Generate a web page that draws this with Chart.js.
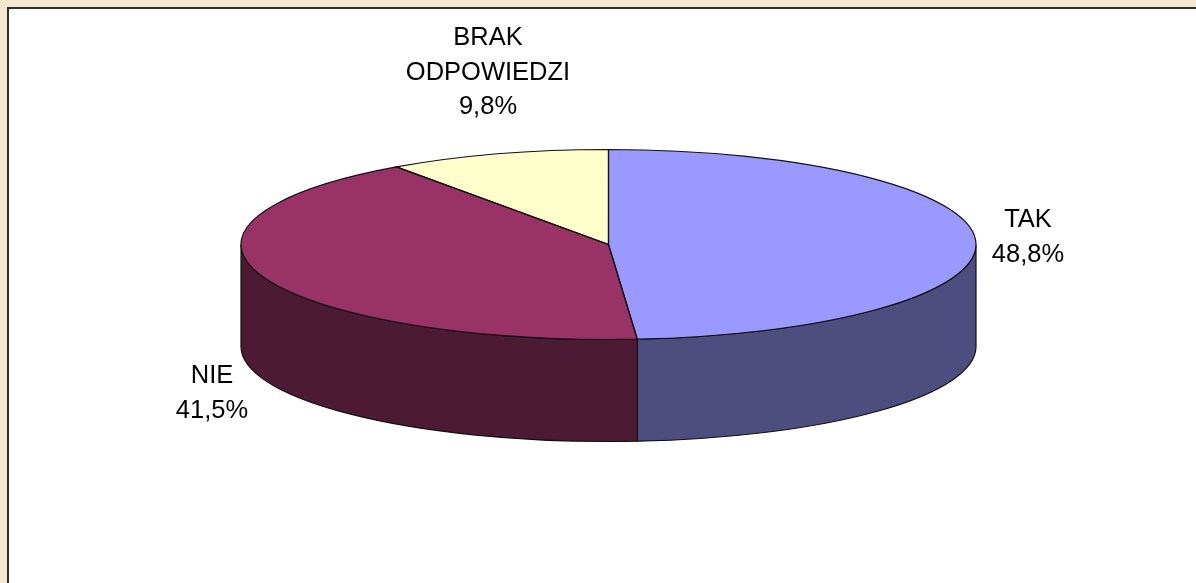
<!DOCTYPE html>
<html>
<head>
<meta charset="utf-8">
<title>Pie</title>
<script src="https://cdn.jsdelivr.net/npm/chart.js@4"></script>
<style>
html, body { margin: 0; padding: 0; background: #f5e8d0; overflow: hidden; }
#wrap { position: absolute; left: 0; top: 0; width: 1196px; height: 583px; }
#frame { position: absolute; left: 7px; top: 7px; width: 1189px; height: 576px; background: #fff;
         border-left: 2px solid #2f2f2f; border-top: 2px solid #2f2f2f; box-sizing: border-box; }
canvas { position: absolute; left: 0; top: 0; }
</style>
</head>
<body>
<div id="wrap">
<div id="frame"></div>
<canvas id="myPieChart" width="1196" height="583"></canvas>
</div>
<script>
var categories = ["TAK", "NIE", "BRAK ODPOWIEDZI"];
var shares = [48.8, 41.5, 9.8];
var shareLabels = ["48,8%", "41,5%", "9,8%"];
var topColors = ["#9999ff", "#993366", "#ffffcc"];
var sideColors = ["#4d4d80", "#4d1a33", "#80805f"];

// label lines, centre of each block and the first baseline
var labelLines = [["TAK"], ["NIE"], ["BRAK", "ODPOWIEDZI"]];
var labelPos = [[1028, 227], [212, 383], [488, 45]];

var CX = 608.5, CY = 244.5, RX = 367.5, RY = 95, DEPTH = 102, OUTLINE = "#111";
var LINE_STEP = 34.5;

// the chart lays out a round pie, this squashes it to the ellipse of the picture
function squash(ctx, el) {
    ctx.translate(el.x, el.y);
    ctx.scale(RX / el.outerRadius, RY / el.outerRadius);
    ctx.translate(-el.x, -el.y);
}

var pie3d = {
    id: 'pie3d',
    beforeDatasetsDraw: function (chart) {
        var ctx = chart.ctx;
        var arcs = chart.getDatasetMeta(0).data;
        var cx = arcs[0].x, cy = arcs[0].y;
        ctx.save();
        ctx.lineWidth = 1.2;
        ctx.strokeStyle = OUTLINE;
        // side wall, only the front half of the rim shows
        arcs.forEach(function (el, i) {
            var a0 = Math.max(el.startAngle, 0), a1 = Math.min(el.endAngle, Math.PI);
            if (a1 <= a0) return;
            ctx.beginPath();
            ctx.ellipse(cx, cy, RX, RY, 0, a0, a1);
            ctx.ellipse(cx, cy + DEPTH, RX, RY, 0, a1, a0, true);
            ctx.closePath();
            ctx.fillStyle = sideColors[i];
            ctx.fill();
            ctx.stroke();
        });
        ctx.restore();
        ctx.save();
        squash(ctx, arcs[0]);
    },
    afterDatasetsDraw: function (chart) {
        var ctx = chart.ctx;
        var arcs = chart.getDatasetMeta(0).data;
        ctx.restore();
        ctx.save();
        ctx.lineWidth = 1.2;
        ctx.strokeStyle = OUTLINE;
        arcs.forEach(function (el) {
            ctx.beginPath();
            ctx.moveTo(el.x, el.y);
            ctx.ellipse(el.x, el.y, RX, RY, 0, el.startAngle, el.endAngle);
            ctx.closePath();
            ctx.stroke();
        });
        ctx.restore();
    },
    afterDraw: function (chart) {
        var ctx = chart.ctx;
        ctx.save();
        ctx.fillStyle = "#000";
        ctx.font = '25.5px "Liberation Sans"';
        ctx.textAlign = "center";
        labelLines.forEach(function (lines, i) {
            lines.concat(shareLabels[i]).forEach(function (line, j) {
                ctx.fillText(line, labelPos[i][0], labelPos[i][1] + j * LINE_STEP);
            });
        });
        ctx.restore();
    }
};

new Chart(document.getElementById('myPieChart').getContext('2d'), {
    type: 'pie',
    data: {
        labels: categories,
        datasets: [{
            data: shares,
            backgroundColor: topColors,
            borderWidth: 0
        }]
    },
    options: {
        responsive: false,
        animation: false,
        // leaves a square chart area of 2*RY around the pie centre
        layout: { padding: { left: CX - RY, right: 1196 - CX - RY, top: CY - RY, bottom: 583 - CY - RY } },
        plugins: {
            legend: { display: false },
            tooltip: { enabled: false }
        }
    },
    plugins: [pie3d]
});
</script>
</body>
</html>
